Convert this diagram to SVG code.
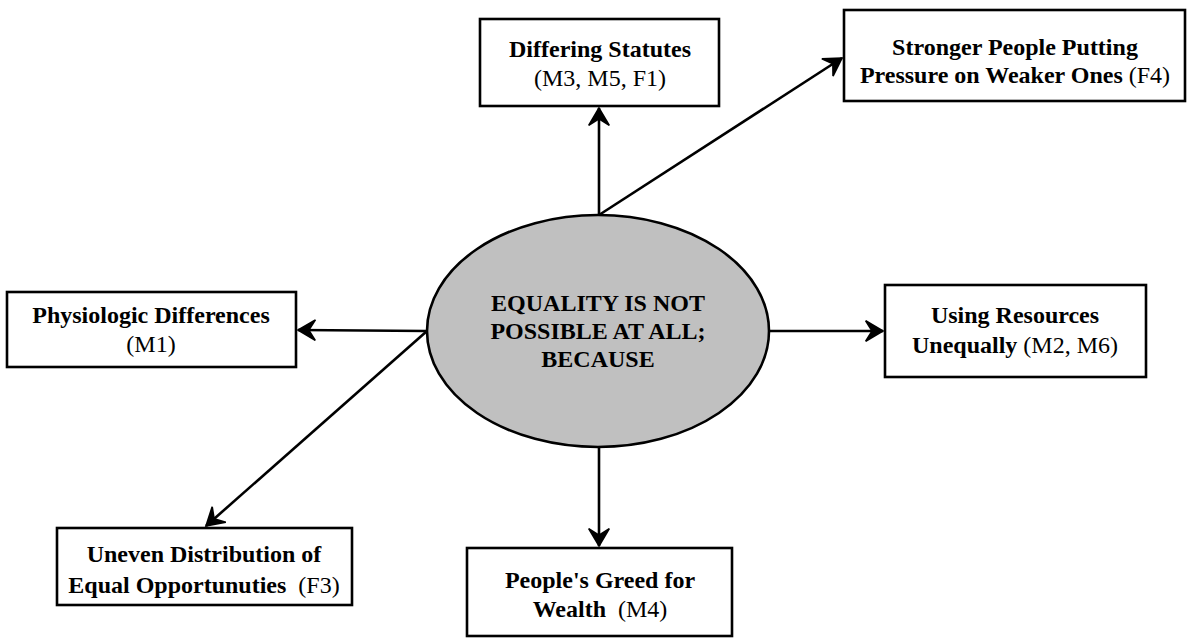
<svg xmlns="http://www.w3.org/2000/svg" width="1187" height="639" viewBox="0 0 1187 639">
<style>
.box{fill:#fff;stroke:#000;stroke-width:2.6}
.t{font-family:"Liberation Serif","Times New Roman",serif;font-size:24px;fill:#000;text-anchor:middle}
.b{font-weight:bold}
.conn{stroke:#000;stroke-width:2.6;fill:none;marker-end:url(#ah)}
</style>
<defs>
<marker id="ah" markerUnits="userSpaceOnUse" markerWidth="26" markerHeight="26" viewBox="-19 -12 21 24" refX="0" refY="0" orient="auto">
<path d="M0,0 L-16,-9.5 L-10,0 L-16,9.5 Z" fill="#000" stroke="#000" stroke-width="1.5" stroke-linejoin="miter"/>
</marker>
</defs>
<rect width="1187" height="639" fill="#fff"/>
<g id="connectors">
<line class="conn" x1="599" y1="215" x2="599" y2="108"/>
<line class="conn" x1="599" y1="215" x2="842" y2="58"/>
<line class="conn" x1="427" y1="331" x2="298" y2="330"/>
<line class="conn" x1="769" y1="331" x2="883" y2="331"/>
<line class="conn" x1="427" y1="331" x2="206" y2="526"/>
<line class="conn" x1="599" y1="447" x2="599" y2="546"/>
</g>
<g id="center">
<ellipse cx="598" cy="331" rx="171" ry="116" fill="#c0c0c0" stroke="#000" stroke-width="2.6"/>
<text class="t b" x="598" y="311">EQUALITY IS NOT</text>
<text class="t b" x="598" y="339">POSSIBLE AT ALL;</text>
<text class="t b" x="598" y="367">BECAUSE</text>
</g>
<g id="differing">
<rect class="box" x="480" y="19" width="239" height="87"/>
<text class="t b" x="600" y="57">Differing Statutes</text>
<text class="t" x="600" y="86">(M3, M5, F1)</text>
</g>
<g id="stronger">
<rect class="box" x="844" y="10" width="341" height="91"/>
<text class="t b" x="1015" y="55">Stronger People Putting</text>
<text class="t" x="1015" y="83"><tspan class="b">Pressure on Weaker Ones</tspan> (F4)</text>
</g>
<g id="physiologic">
<rect class="box" x="7" y="292" width="289" height="75"/>
<text class="t b" x="151" y="323">Physiologic Differences</text>
<text class="t" x="151" y="352">(M1)</text>
</g>
<g id="using">
<rect class="box" x="885" y="285" width="261" height="92"/>
<text class="t b" x="1015" y="323">Using Resources</text>
<text class="t" x="1015" y="353"><tspan class="b">Unequally</tspan> (M2, M6)</text>
</g>
<g id="uneven">
<rect class="box" x="57" y="528" width="295" height="77"/>
<text class="t b" x="204" y="562">Uneven Distribution of</text>
<text class="t" x="204" y="593" xml:space="preserve"><tspan class="b">Equal Opportunuties</tspan>  (F3)</text>
</g>
<g id="greed">
<rect class="box" x="467" y="548" width="265" height="88"/>
<text class="t b" x="600" y="588">People's Greed for</text>
<text class="t" x="600" y="617" xml:space="preserve"><tspan class="b">Wealth</tspan>  (M4)</text>
</g>
</svg>
